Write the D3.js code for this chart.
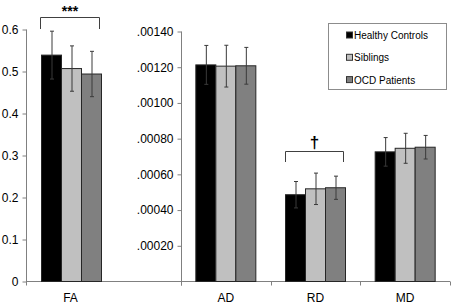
<!DOCTYPE html>
<html>
<head>
<meta charset="utf-8">
<script src="https://cdn.jsdelivr.net/npm/d3@7"></script>
<style>
  body { margin: 0; background: #fff; }
  text { font-family: "Liberation Sans", Arial, sans-serif; fill: #000; }
</style>
</head>
<body>
<svg id="chart" width="453" height="305"></svg>
<script>
const groups = ['Healthy Controls', 'Siblings', 'OCD Patients'];
const groupColors = ['#000000', '#c0c0c0', '#808080'];

// FA panel (left axis)
const faMeans = [0.539, 0.507, 0.494];
const faSd = [0.057, 0.054, 0.054];

// diffusivity panel (right axis)
const diffMeasures = ['AD', 'RD', 'MD'];
const adMeans = [0.001213, 0.001206, 0.001208];
const adSd = [0.000109, 0.000117, 0.000103];
const rdMeans = [0.000486, 0.000519, 0.000525];
const rdSd = [0.000074, 0.000088, 0.000065];
const mdMeans = [0.000726, 0.000746, 0.000752];
const mdSd = [0.000080, 0.000084, 0.000066];

const faTicks = [0, 0.1, 0.2, 0.3, 0.4, 0.5, 0.6];
const diffTicks = [0.0002, 0.0004, 0.0006, 0.0008, 0.0010, 0.0012, 0.0014];

const svg = d3.select('#chart');
const axisColor = '#808080';
const base = 281.5;

const yFA = d3.scaleLinear().domain([0, 0.6]).range([base, 29.5]);
const yDiff = d3.scaleLinear().domain([0, 0.0014]).range([base, 31.5]);

const xFA = d3.scaleBand().domain(['FA']).range([26, 117]);
const xDiff = d3.scaleBand().domain(diffMeasures).range([181, 450]);
const xInner = d3.scaleBand().domain(groups).range([0, 60]);

// baseline
svg.append('line')
  .attr('x1', 26).attr('x2', 450)
  .attr('y1', base).attr('y2', base)
  .attr('stroke', axisColor);

// bottom ticks
[26, ...diffMeasures.map(d => xDiff(d)), 450].forEach(x => {
  svg.append('line')
    .attr('x1', Math.round(x) + 0.5).attr('x2', Math.round(x) + 0.5)
    .attr('y1', base).attr('y2', base + 4)
    .attr('stroke', axisColor);
});

// y axes
const leftAxis = d3.axisLeft(yFA).tickValues(faTicks).tickSize(4).tickPadding(4)
  .tickFormat(d => d === 0 ? '0' : d3.format('.1f')(d));
const gl = svg.append('g').attr('transform', 'translate(26.5,0)').call(leftAxis);

const rightAxis = d3.axisLeft(yDiff).tickValues(diffTicks).tickSize(4).tickPadding(4)
  .tickFormat(d => d3.format('.5f')(d).replace(/^0/, ''));
const gr = svg.append('g').attr('transform', 'translate(181.5,0)').call(rightAxis);

[gl, gr].forEach(g => {
  g.select('.domain').attr('stroke', axisColor).attr('d', g === gl ? 'M0,' + base + 'V29.5' : 'M0,' + (base + 4) + 'V31.5');
  g.selectAll('.tick line').attr('stroke', axisColor);
  g.selectAll('.tick text').attr('font-size', 12).attr('font-family', '"Liberation Sans", Arial, sans-serif');
});

function drawGroup(x0, means, sds, y) {
  const g = svg.append('g').attr('transform', `translate(${x0},0)`);
  groups.forEach((grp, i) => {
    g.append('rect')
      .attr('x', xInner(grp))
      .attr('y', y(means[i]))
      .attr('width', xInner.bandwidth())
      .attr('height', y(0) - y(means[i]))
      .attr('fill', groupColors[i])
      .attr('stroke', '#262626')
      .attr('stroke-width', 1);
  });
  groups.forEach((grp, i) => {
    const cx = Math.round(xInner(grp) + xInner.bandwidth() / 2) + 0.5;
    const top = y(means[i] + sds[i]);
    const bot = y(means[i] - sds[i]);
    g.append('line').attr('x1', cx).attr('x2', cx).attr('y1', top).attr('y2', bot)
      .attr('stroke', '#3a3a3a');
    [top, bot].forEach(yy => {
      g.append('line').attr('x1', cx - 2).attr('x2', cx + 2).attr('y1', yy).attr('y2', yy)
        .attr('stroke', '#3a3a3a');
    });
  });
}

const groupW = xInner.range()[1];
drawGroup(xFA('FA') + xFA.bandwidth() / 2 - groupW / 2, faMeans, faSd, yFA);
const diffData = { AD: [adMeans, adSd], RD: [rdMeans, rdSd], MD: [mdMeans, mdSd] };
diffMeasures.forEach(m => {
  drawGroup(xDiff(m) + xDiff.bandwidth() / 2 - groupW / 2, diffData[m][0], diffData[m][1], yDiff);
});

// category labels
svg.append('text').attr('x', xFA('FA') + xFA.bandwidth() / 2 - 1).attr('y', 302)
  .attr('text-anchor', 'middle').attr('font-size', 12).text('FA');
diffMeasures.forEach(m => {
  svg.append('text').attr('x', xDiff(m) + xDiff.bandwidth() / 2).attr('y', 302)
    .attr('text-anchor', 'middle').attr('font-size', 12).text(m);
});

// significance brackets
function bracket(x1, x2, yTop, yLeg, label, fs, ly) {
  svg.append('path')
    .attr('d', `M${x1},${yLeg}V${yTop}H${x2}V${yLeg}`)
    .attr('fill', 'none').attr('stroke', '#404040');
  svg.append('text').attr('x', (x1 + x2) / 2).attr('y', ly)
    .attr('text-anchor', 'middle').attr('font-size', fs).attr('font-weight', 'bold').text(label);
}
bracket(40.5, 99.5, 17.5, 29, '***', 14, 16);
bracket(285.5, 343.5, 151.5, 162, '\u2020', 17, 148);

// legend
const lg = svg.append('g');
lg.append('rect').attr('x', 328.5).attr('y', 23.5).attr('width', 118).attr('height', 66)
  .attr('fill', '#fff').attr('stroke', '#8c8c8c');
groups.forEach((grp, i) => {
  const cy = 35.5 + i * 22.3;
  lg.append('rect').attr('x', 346.5).attr('y', cy - 3.5).attr('width', 6).attr('height', 6)
    .attr('fill', groupColors[i]).attr('stroke', '#333');
  lg.append('text').attr('x', 354).attr('y', cy + 3.5).attr('font-size', 10).text(grp);
});
</script>
</body>
</html>
